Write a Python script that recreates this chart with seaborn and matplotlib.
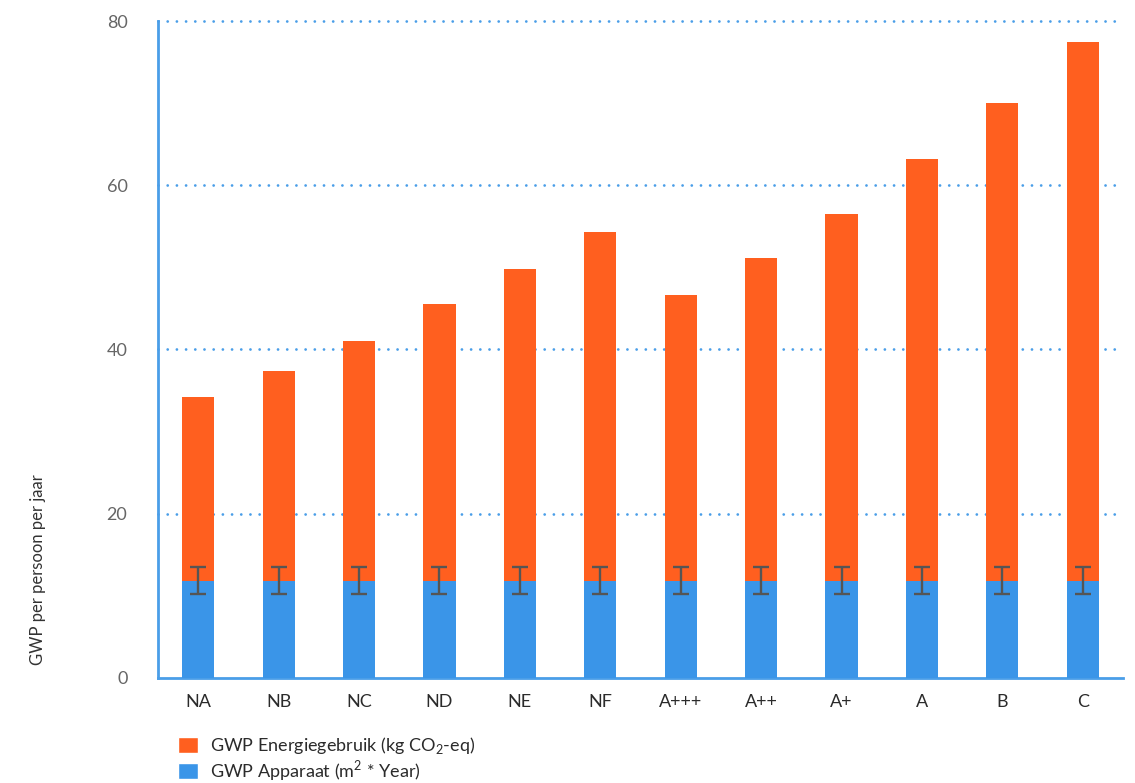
import seaborn as sns
import matplotlib.pyplot as plt
import pandas as pd
from matplotlib.patches import Patch

# labels op de x-as
klassen = ['NA', 'NB', 'NC', 'ND', 'NE', 'NF', 'A+++', 'A++', 'A+', 'A', 'B', 'C']
# GWP apparaat (blauw) en energiegebruik (oranje)
gwp_apparaat = [11.8] * 12
gwp_energie = [22.4, 25.6, 29.2, 33.7, 38.0, 42.5, 34.8, 39.3, 44.7, 51.4, 58.2, 65.7]
fout_apparaat = [1.65] * 12

oranje = '#ff5f1f'
blauw = '#3a95e8'
as_kleur = '#4a9ee8'

sns.set_theme(style='white')
plt.rcParams['font.family'] = ['Lato', 'DejaVu Sans']
plt.rcParams['mathtext.fontset'] = 'custom'
plt.rcParams['mathtext.rm'] = 'Lato'

df = pd.DataFrame({'klasse': klassen, 'apparaat': gwp_apparaat, 'energie': gwp_energie})
df['totaal'] = df['apparaat'] + df['energie']

fig = plt.figure(figsize=(11.35, 7.83), dpi=100)
ax = fig.add_axes([158/1135, 1 - 677.7/783, 965/1135, (677.7 - 21)/783])

# gestapelde balken: eerst totaal (oranje), dan apparaat (blauw) eroverheen
sns.barplot(data=df, x='klasse', y='totaal', color=oranje, width=0.4, saturation=1,
            linewidth=0, ax=ax, zorder=3)
sns.barplot(data=df, x='klasse', y='apparaat', color=blauw, width=0.4, saturation=1,
            linewidth=0, ax=ax, zorder=4)
ax.errorbar(range(len(klassen)), df['apparaat'], yerr=fout_apparaat, fmt='none',
            ecolor='#555555', elinewidth=1.7, capsize=5.5, capthick=1.7, zorder=5)

ax.set_xlim(-0.5, 11.5)
ax.set_ylim(0, 80)
ax.set_yticks([0, 20, 40, 60, 80])
for y in [20, 40, 60, 80]:
    ax.axhline(y, color=as_kleur, lw=2, linestyle=(0, (0.01, 3.3)),
               dash_capstyle='round', zorder=1, clip_on=False)

for kant in ['top', 'right']:
    ax.spines[kant].set_visible(False)
for kant in ['left', 'bottom']:
    ax.spines[kant].set_color(as_kleur)
    ax.spines[kant].set_linewidth(2)

ax.set_xlabel('')
ax.set_ylabel('')
ax.tick_params(axis='x', length=0, pad=12, labelsize=13, labelcolor='#2b2b2b')
ax.tick_params(axis='y', length=0, pad=22, labelsize=13, labelcolor='#666666')
ax.set_xticks([i + 0.5 for i in range(-1, 12)], minor=True)
ax.tick_params(axis='x', which='minor', length=5, width=2, color=as_kleur, direction='out')

fig.text(38/1135, 1 - 570/783, 'GWP per persoon per jaar', rotation=90,
         ha='center', va='center', fontsize=12, color='#333333')

handles = [Patch(facecolor=oranje), Patch(facecolor=blauw)]
labels = ['GWP Energiegebruik (kg CO$_\\mathregular{2}$-eq)', 'GWP Apparaat (m$^\\mathregular{2}$ * Year)']
fig.legend(handles, labels, loc='upper left', bbox_to_anchor=(178/1135, 1 - 735/783),
           frameon=False, fontsize=13, handlelength=1.1, handleheight=1.0,
           handletextpad=0.7, labelspacing=0.1, borderaxespad=0, borderpad=0,
           labelcolor='#2b2b2b')

plt.savefig('out.png', dpi=100)
